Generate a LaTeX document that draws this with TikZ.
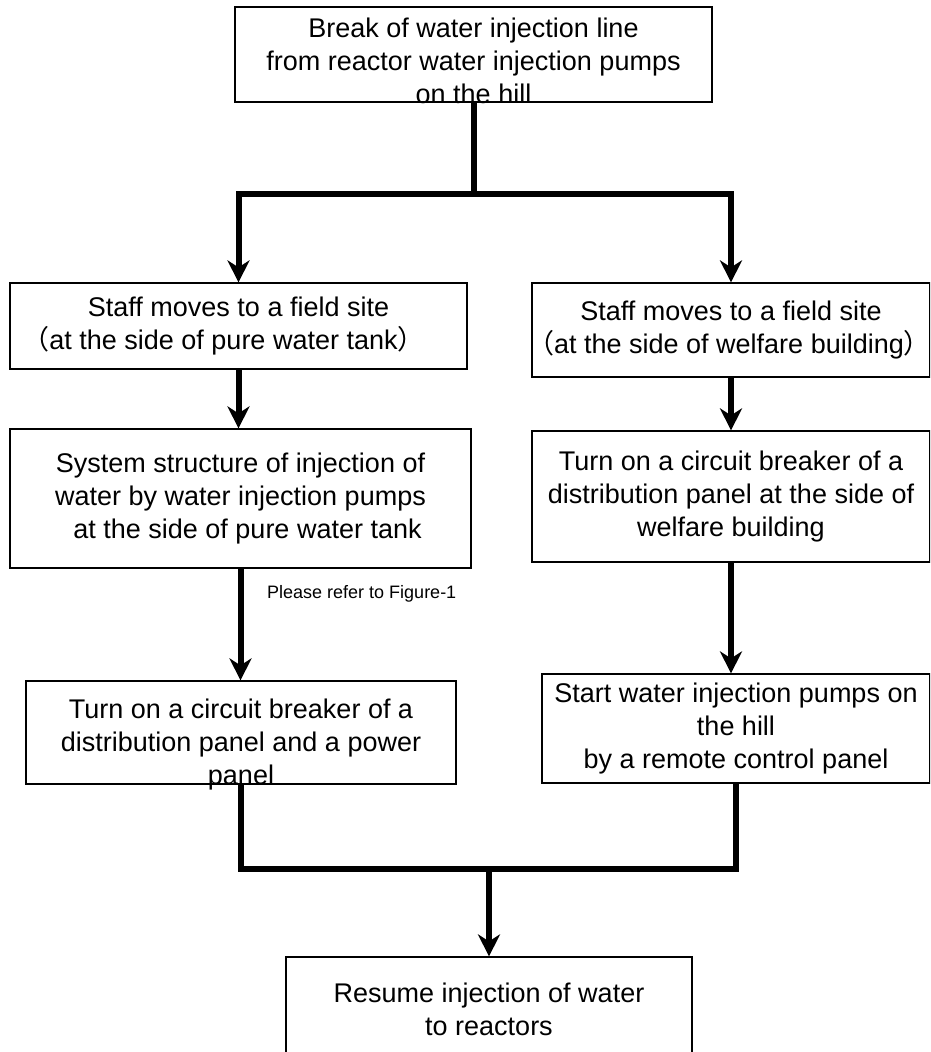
\documentclass[tikz,border=0pt]{standalone}
\usepackage{fontspec}
\setmainfont{Liberation Sans}
\newfontfamily\cjk{Noto Sans CJK JP}
\usetikzlibrary{arrows.meta,positioning,calc}

\newcommand{\fwopen}{\makebox[0.8em][r]{\cjk （}}
\newcommand{\fwclose}{\makebox[0.8em][l]{\cjk ）}}

\begin{document}
\begin{tikzpicture}[
    x=1pt, y=1pt,
    box/.style={rectangle, draw=black, line width=1.2pt, align=center, inner sep=0pt, font=\fontsize{27}{33}\selectfont},
    frame/.style={rectangle, draw=black, line width=1.2pt, inner sep=0pt},
    txt/.style={align=center, inner sep=0pt, font=\fontsize{27}{33}\selectfont},
    note/.style={font=\fontsize{18}{22}\selectfont, inner sep=0pt},
    flow/.style={line width=6pt},
    arrow/.style={flow, -{Stealth[length=22pt, width=22pt, inset=7pt]}}
]
\useasboundingbox (0,0) rectangle (930,-1052);
\clip (0,0) rectangle (930,-1052);

% Initiating event
\node[frame, minimum width=477pt, minimum height=95pt] (break) at (473.5,-54.5) {};
\node[txt] (breakT) at (473.5,-61) {Break of water injection line\\from reactor water injection pumps\\on the hill};

% Left branch (pure water tank)
\node[box, minimum width=457pt, minimum height=86pt] (siteL) at (238.5,-326) {Staff moves to a field site\\\fwopen at the side of pure water tank\fwclose\hspace*{30pt}};
\node[box, minimum width=461pt, minimum height=139pt] (systemL) at (240.5,-498.5) {System structure of injection of\\water by water injection pumps\\\hspace*{14pt}at the side of pure water tank};
\node[frame, minimum width=430pt, minimum height=103pt] (panelL) at (241,-732.5) {};
\node[txt] (panelLT) at (241,-745) {Turn on a circuit breaker of a\\distribution panel and a power\\panel};
\node[note, anchor=west] (refnote) at ($(systemL.south)+(26.5,-25)$) {Please refer to Figure-1};

% Right branch (welfare building)
\node[box, minimum width=398pt, minimum height=94pt] (siteR) at (731,-330) {Staff moves to a field site\\\fwopen at the side of welfare building\fwclose\hspace*{4pt}};
\node[box, minimum width=398pt, minimum height=131pt] (panelR) at (731,-496.5) {Turn on a circuit breaker of a\\distribution panel at the side of\\welfare building};
\node[box, minimum width=388pt, minimum height=109pt] (pumps) at (736,-728.5) {Start water injection pumps on\\the hill\\by a remote control panel};

% Result
\node[box, minimum width=406pt, minimum height=104pt] (resume) at (489,-1009) {Resume injection of water\\to reactors};

% Connectors
\coordinate (split) at ($(break.south)+(0,-91)$);
\draw[flow] (break.south) -- (split);
\draw[arrow] (split) -| (siteL.north);
\draw[arrow] (split) -| (siteR.north);
\draw[arrow] (siteL.south) -- (siteL.south |- systemL.north);
\draw[arrow] (systemL.south) -- (systemL.south |- panelL.north);
\draw[arrow] (siteR.south) -- (siteR.south |- panelR.north);
\draw[arrow] (panelR.south) -- (panelR.south |- pumps.north);

\coordinate (merge) at ($(resume.north)+(0,87)$);
\draw[flow] (panelL.south) |- (merge);
\draw[flow] (pumps.south) |- (merge);
\draw[arrow] (merge) -- (resume.north);

\end{tikzpicture}
\end{document}
